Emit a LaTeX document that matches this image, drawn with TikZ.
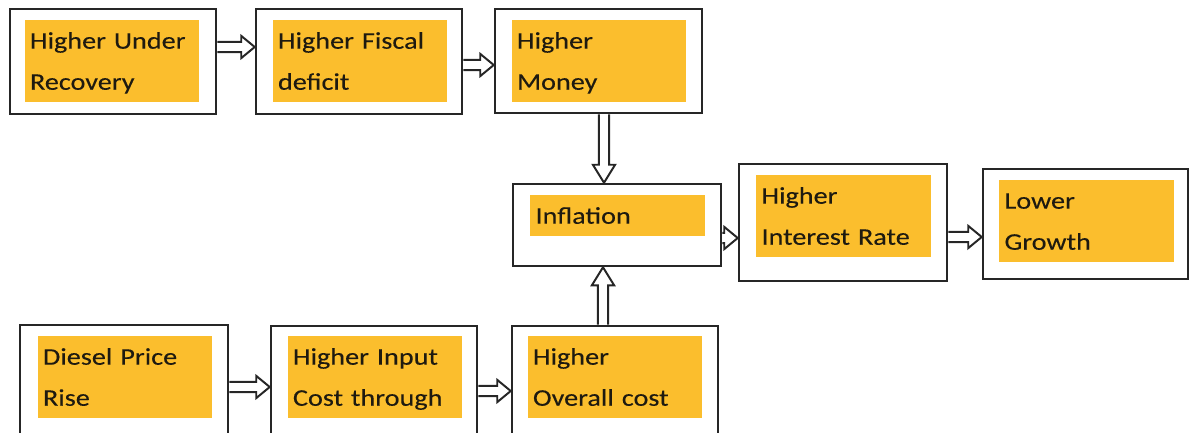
\documentclass[tikz,border=0pt]{standalone}
\usepackage{fontspec}
\setmainfont{Carlito}[FakeStretch=1.18,FakeBold=0.15]
\usetikzlibrary{fit,calc}
\definecolor{boxyellow}{RGB}{251,190,45}
\definecolor{inkdark}{RGB}{30,26,16}
\def\hw{3.7pt}\def\hh{7.9pt}\def\hl{9.6pt}\def\vl{12.8pt}
\newcommand\harr[3]{\draw[arr] let \p1=(#1.east), \p2=(#2.west), \p3=(0,#3) in
  (\x1,\y3+\hw) -- (\x2-\hl,\y3+\hw) -- (\x2-\hl,\y3+\hh) -- (\x2,\y3) -- (\x2-\hl,\y3-\hh) -- (\x2-\hl,\y3-\hw) -- (\x1,\y3-\hw);}
\newcommand\darr[3]{\draw[arr] let \p1=(#1.south), \p2=(#2.north), \p3=(#3,0) in
  (\x3-\hw,\y1) -- (\x3-\hw,\y2+\vl) -- (\x3-\hh,\y2+\vl) -- (\x3,\y2) -- (\x3+\hh,\y2+\vl) -- (\x3+\hw,\y2+\vl) -- (\x3+\hw,\y1);}
\newcommand\uarr[3]{\draw[arr] let \p1=(#1.north), \p2=(#2.south), \p3=(#3,0) in
  (\x3-\hw,\y1) -- (\x3-\hw,\y2-\vl) -- (\x3-\hh,\y2-\vl) -- (\x3,\y2) -- (\x3+\hh,\y2-\vl) -- (\x3+\hw,\y2-\vl) -- (\x3+\hw,\y1);}
\begin{document}
\begin{tikzpicture}[x=0.025cm,y=-0.025cm,
  outerbox/.style={draw=black!85, line width=1.8pt, fill=white, inner sep=0pt},
  ybox/.style={fill=boxyellow, text=inkdark, align=left, text width=4.1cm,
    inner xsep=0.125cm, inner ysep=0pt, minimum height=2.05cm,
    font=\fontsize{17}{29.2}\selectfont},
  arr/.style={draw=black!85, line width=1.4pt, fill=white, line join=miter}]
\useasboundingbox (0,0) rectangle (1190,433);
\clip (0,0) rectangle (1190,433);
% outer boxes
\node[outerbox, fit={(10,9) (216,114)}] (o1) {};
\node[outerbox, fit={(256,9) (462,114)}] (o2) {};
\node[outerbox, fit={(495,9) (702,113)}] (o3) {};
\node[outerbox, fit={(513,184) (721,266)}] (o4) {};
\node[outerbox, fit={(739,164) (947,281)}] (o5) {};
\node[outerbox, fit={(983,169) (1188,279)}] (o6) {};
\node[outerbox, fit={(20,325) (228,450)}] (o7) {};
\node[outerbox, fit={(271,326) (477,450)}] (o8) {};
\node[outerbox, fit={(512,326) (718,450)}] (o9) {};
% yellow text boxes
\node[ybox] (t1) at (112,61) {\strut Higher Under\\\strut Recovery};
\node[ybox] (t2) at (360,61) {\strut Higher Fiscal\\\strut deficit};
\node[ybox] (t3) at (599,61) {\strut Higher\\\strut Money};
\node[ybox, minimum height=1.025cm] (t4) at (617.5,215.5) {\strut Inflation};
\node[ybox] (t5) at (843.5,216) {\strut Higher\\\strut Interest Rate};
\node[ybox] (t6) at (1086.5,221) {\strut Lower\\\strut Growth};
\node[ybox] (t7) at (125,377) {\strut Diesel Price\\\strut Rise};
\node[ybox] (t8) at (375,377) {\strut Higher Input\\\strut Cost through};
\node[ybox] (t9) at (615,377) {\strut Higher\\\strut Overall cost};
% connectors
\harr{o1}{o2}{47}
\harr{o2}{o3}{65}
\darr{o3}{o4}{604}
\harr{o4}{o5}{238}
\harr{o5}{o6}{237}
\harr{o7}{o8}{387}
\harr{o8}{o9}{391}
\uarr{o9}{o4}{603}
\end{tikzpicture}
\end{document}
